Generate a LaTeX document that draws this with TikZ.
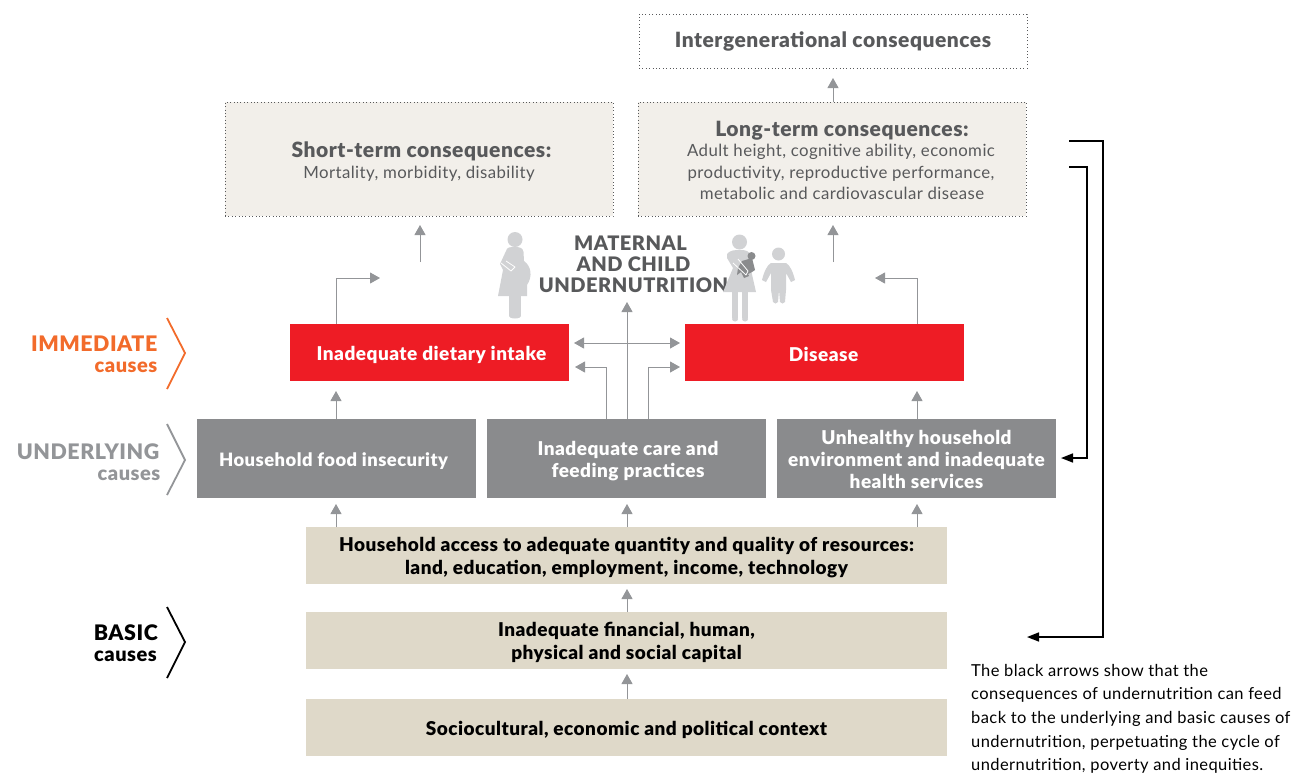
\documentclass[tikz,border=0pt]{standalone}
\usepackage{fontspec}
\setmainfont[LetterSpace=2.5,BoldFont={Lato Black}]{Lato}
\usetikzlibrary{arrows.meta,calc}
\definecolor{txtdark}{HTML}{58595B}
\definecolor{arrgray}{HTML}{939598}
\definecolor{boxgray}{HTML}{8A8B8D}
\definecolor{figgray}{HTML}{D1D2D4}
\definecolor{redbox}{HTML}{EE1C25}
\definecolor{tan}{HTML}{DFD9C9}
\definecolor{paleb}{HTML}{F2EFEA}
\definecolor{orangec}{HTML}{F26B2B}
\definecolor{graylab}{HTML}{939598}
\tikzset{
  box/.style={inner sep=0pt,outer sep=0pt,align=center,anchor=north west},
  redb/.style={box,fill=redbox,text=white,font=\fontsize{19}{22}\selectfont\bfseries,minimum width=279pt,minimum height=57pt},
  grayb/.style={box,fill=boxgray,text=white,font=\fontsize{19}{22}\selectfont\bfseries,minimum width=279pt,minimum height=79pt},
  tanb/.style={box,fill=tan,text=black,font=\fontsize{19}{22.5}\selectfont\bfseries,minimum width=641pt,minimum height=57pt},
  conseq/.style={box,draw=txtdark,line width=0.8pt,dash pattern=on 0.8pt off 2.6pt,text=txtdark,font=\fontsize{16.8}{21.5}\selectfont,minimum width=388pt},
  garrow/.style={draw=arrgray,line width=1pt,-{Triangle[length=10pt,width=11pt,fill=arrgray]}},
  garrowb/.style={draw=arrgray,line width=1pt,{Triangle[length=10pt,width=11pt,fill=arrgray]}-{Triangle[length=10pt,width=11pt,fill=arrgray]}},
  barrow/.style={draw=black,line width=1.6pt,-{Triangle[length=12pt,width=9pt,fill=black]}},
  chev/.style={line width=1.8pt,line join=miter},
  lab/.style={inner sep=0pt,anchor=east,font=\fontsize{21.4}{22}\selectfont\bfseries},
  sublab/.style={inner sep=0pt,anchor=east,font=\fontsize{20}{20}\selectfont\bfseries},
  fig/.style={fill=figgray,draw=none}
}
\newcommand{\hd}{\fontsize{21}{22}\selectfont\bfseries}
\newcommand{\pd}[1]{\rule{0pt}{#1pt}}
\begin{document}
\begin{tikzpicture}[x=1pt,y=-1pt]
\useasboundingbox (0,0) rectangle (1308,772);
% consequence boxes
\node[conseq,minimum height=54pt] (inter) at (639,14) {\pd{17}\hd Intergenerational consequences};
\node[conseq,fill=paleb,minimum height=114pt] (long) at (638,102) {\pd{19}\hspace*{20pt}{\hd Long-term consequences:}\\[-1.5pt]\hspace*{18pt}Adult height, cognitive ability, economic\\\hspace*{18pt}productivity, reproductive performance,\\\hspace*{20pt}metabolic and cardiovascular disease};
\node[conseq,fill=paleb,minimum height=114pt] (short) at (225,102) {\pd{21}\hspace*{5pt}{\hd Short-term consequences:}\\[0pt]Mortality, morbidity, disability};
% title
\node[inner sep=0pt,align=center,text=txtdark,font=\fontsize{20}{21}\selectfont\bfseries] (title) at (633.5,264.5) {MATERNAL\hspace*{6pt}\\AND CHILD\hspace*{3pt}\\UNDERNUTRITION};
% red
\node[redb] (diet) at (290,324) {\pd{18.5}\hspace*{4pt}Inadequate dietary intake};
\node[redb] (dis) at (685,324) {\pd{18.5}Disease\hspace*{2pt}};
% gray
\node[grayb] (food) at (197,419) {\pd{18.5}\fontsize{18.4}{22}\selectfont Household food insecurity\hspace*{6pt}};
\node[grayb] (care) at (487,419) {\pd{18.5}\hspace*{3pt}Inadequate care and\\\hspace*{3pt}feeding practices};
\node[grayb] (env) at (777,419) {\pd{15.5}Unhealthy household\\environment and inadequate\\health services};
% tan
\node[tanb] (access) at (306,527) {\pd{18.5}Household access to adequate quantity and quality of resources:\\land, education, employment, income, technology};
\node[tanb] (capital) at (306,612) {\pd{18.5}Inadequate financial, human,\\physical and social capital};
\node[tanb] (context) at (306,699) {\pd{18.5}Sociocultural, economic and political context};
% free ends
\coordinate (sa) at (420,225); \coordinate (sb) at (420,262);
\coordinate (la) at (833,225); \coordinate (lb) at (833,262);
\coordinate (dl) at (380,278); \coordinate (dr) at (875,278);
\coordinate (bl) at (574,343); \coordinate (br) at (680,343);
\coordinate (cl) at (575,367); \coordinate (cr) at (680,367);
\coordinate (ct) at (627,302);
\coordinate (f1) at (1069,141); \coordinate (f2) at (1069,167);
\coordinate (f1e) at (1027,637); \coordinate (f2e) at (1061,458);
% grey arrows
\draw[garrow] (833,102) -- (833,78);
\draw[garrow] (sb) -- (sa);
\draw[garrow] (lb) -- (la);
\draw[garrow] (336,324) |- (dl);
\draw[garrow] (917,324) |- (dr);
\draw[garrowb] (bl) -- (br);
\draw[garrow] (627,419) -- (ct);
\draw[garrow] (606,419) |- (cl);
\draw[garrow] (648,419) |- (cr);
\draw[garrow] (336,419) -- (336,391);
\draw[garrow] (917,419) -- (917,391);
\draw[garrow] (336,527) -- (336,504);
\draw[garrow] (627,527) -- (627,504);
\draw[garrow] (917,527) -- (917,504);
\draw[garrow] (627,612) -- (627,589);
\draw[garrow] (627,699) -- (627,674);
% black arrows
\draw[barrow] (f1) -- (1103,141) -- (1103,637) -- (f1e);
\draw[barrow] (f2) -- (1087,167) -- (1087,458) -- (f2e);
% chevrons and labels
\draw[chev,orangec] (167,318) -- (185,353) -- (167,389);
\draw[chev,graylab] (167,424) -- (185,460) -- (167,495);
\draw[chev,black] (167,607) -- (185,642) -- (167,678);
\node[lab,text=orangec] (imm) at (157.5,344) {IMMEDIATE};
\node[sublab,text=orangec] (immc) at (157.5,367.5) {causes};
\node[lab,text=graylab] (und) at (159.5,452) {UNDERLYING};
\node[sublab,text=graylab] (undc) at (160.5,475.5) {causes};
\node[lab,text=black] (bas) at (158,633) {BASIC};
\node[sublab,text=black] (basc) at (157,656.5) {causes};
% note
\node[inner sep=0pt,anchor=north west,align=left,font=\fontsize{16.5}{23.6}\selectfont] (note) at (971,664) {The black arrows show that the\\consequences of undernutrition can feed\\back to the underlying and basic causes of\\undernutrition, perpetuating the cycle of\\undernutrition, poverty and inequities.};
% pregnant woman
\fill[fig] (515,239.5) circle (7.5);
\fill[fig] (506,251) .. controls (507,247) and (510,247) .. (515,247) .. controls (520,247) and (523,248) .. (523.5,252) -- (524,261) .. controls (531,266) and (533,276) .. (527,285) -- (527,296) -- (498,296) -- (503,270) -- (500,264) -- cycle;
\fill[fig] (509,296) rectangle (521,316);
\fill[fig] (515,316) ellipse (6 and 2.5);
\draw[white,line width=0.8pt,line join=round] (501,263) -- (511,271) -- (515,267) -- (506,261);
% mother and baby
\fill[fig] (739.5,242) circle (7.5);
\fill[fig] (727,254) .. controls (730,250) and (735,250) .. (740,250) .. controls (746,250) and (750,251) .. (750,256) -- (751,270) -- (756,292) -- (723,292) -- (733,268) -- (727,258) -- cycle;
\fill[fig] (732,292) rectangle (738,318);
\fill[fig] (742,292) rectangle (748,318);
\fill[fig] (735,319) ellipse (3 and 2.5);
\fill[fig] (745,319) ellipse (3 and 2.5);
\fill[boxgray] (751.5,256) circle (4);
\fill[boxgray] (742,261) -- (752,258) -- (755,270) -- (752,272) -- (748,274) -- (749,276) -- (744,278) -- (741,272) -- (737,275) -- (738,268) -- cycle;
\draw[white,line width=0.8pt,line join=round] (733,263) -- (746,275) -- (748,271) -- (738,259);
% child
\fill[fig] (778.5,254) circle (6.5);
\fill[fig] (771,263) -- (786,263) .. controls (790,265) and (793,272) .. (795,280) -- (791,282) -- (786,273) -- (786,290) -- (785,302) .. controls (784,304) and (781,304) .. (780,302) -- (779,290) -- (778,302) .. controls (777,304) and (774,304) .. (773,302) -- (771,290) -- (771,273) -- (766,282) -- (762,280) .. controls (764,272) and (767,265) .. (771,263) -- cycle;
\end{tikzpicture}
\end{document}
